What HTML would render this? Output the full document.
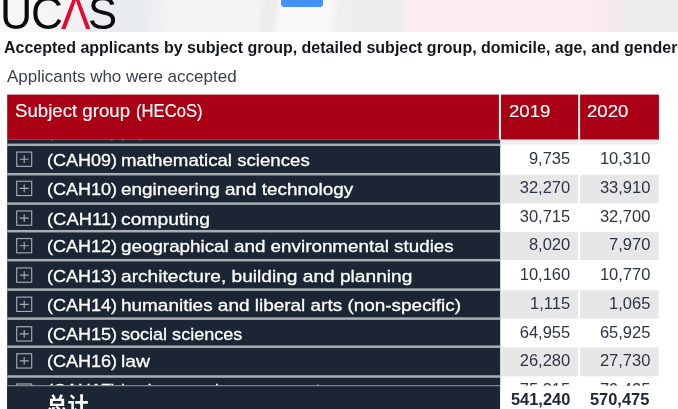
<!DOCTYPE html>
<html lang="en"><head><meta charset="utf-8"><title>UCAS accepted applicants</title>
<style>
html,body{margin:0;padding:0;overflow:hidden;}
body{width:678px;height:409px;overflow:hidden;position:relative;background:#fff;font-family:'Liberation Sans', sans-serif;}
.t{position:absolute;white-space:pre;line-height:1;transform-origin:0 0;}
.top{position:absolute;left:-6px;top:-6px;width:690px;height:38.3px;
 background:linear-gradient(97deg,#f8f7f5 0,#f8f7f5 6px,#f5f5f4 66px,#e9ecf0 106px,#e8ebef 151px,#f3f3f3 176px,#f6f5f3 194px,#f5f4f3 264px,#ececec 271px,#ececec 280px,#fafafa 288px,#fbf8f8 334px,#eef0ef 344px,#ecedec 402px,#fbecf0 414px,#fcebef 596px,#f3e9ec 621px,#ececec 638px,#ededed 688px);}
.btn{position:absolute;left:280.5px;top:-2px;width:42px;height:8.6px;background:#4491fb;border-radius:0 0 3px 3px;}
.logo{position:absolute;left:0;top:0;width:120px;height:32px;}
.lg{position:absolute;line-height:1;font-size:46px;color:#0b0b0b;transform-origin:0 0;}
.scroll{position:absolute;left:0;top:139.7px;width:678px;height:246px;overflow:hidden;}
.scroll>.in{position:absolute;left:0;top:-139.7px;width:678px;height:409px;}
svg{position:absolute;left:0;top:0;overflow:visible;}
.tot{position:absolute;left:0;top:385.7px;width:678px;height:31px;overflow:hidden}
.tot>.in{position:absolute;left:0;top:-385.7px;width:678px;height:430px;}
#pg{position:absolute;left:0;top:0;width:678px;height:409px;filter:blur(0.4px);}
</style></head><body>
<div id="pg">
<div class="top"></div><div class="btn"></div><div class="logo" aria-label="UCAS"><div class="lg" style="left:-0.3px;top:-10.4px;transform:scaleX(.97)">U</div><div class="lg" style="left:30.7px;top:-10.4px;transform:scaleX(.965)">C</div><div class="lg" style="left:60.8px;top:-12.2px;font-size:48.6px;color:#e5082f;transform:scaleX(.9125)">Λ</div><div class="lg" style="left:88.4px;top:-10.3px;transform:scaleX(.948)">S</div></div>
<div class="t" style="left:4.00px;top:39.00px;font-size:16.4px;color:#15171f;font-weight:700;transform:scaleX(0.9754);">Accepted applicants by subject group, detailed subject group, domicile, age, and gender</div>
<div class="t" style="left:6.80px;top:68.81px;font-size:15.7px;color:#3a3e4a;transform:scaleX(1.0835);">Applicants who were accepted</div>
<svg width="678" height="409" viewBox="0 0 678 409">
<rect x="7.2" y="94.6" width="491.7" height="45.099999999999994" fill="#a90016"/>
<rect x="500.9" y="94.6" width="77.3" height="45.099999999999994" fill="#a90016"/>
<rect x="580.1" y="94.6" width="78.8" height="45.099999999999994" fill="#a90016"/>
<rect x="7.2" y="139.7" width="493.0" height="276.3" fill="#1b2533"/>
<rect x="500.9" y="139.70" width="77.3" height="4.90" fill="#efefef"/>
<rect x="580.1" y="139.70" width="78.5" height="4.90" fill="#efefef"/>
<rect x="500.9" y="174.80" width="77.3" height="28.60" fill="#e7e7e7"/>
<rect x="580.1" y="174.80" width="78.5" height="28.60" fill="#e7e7e7"/>
<rect x="500.9" y="231.80" width="77.3" height="28.20" fill="#e7e7e7"/>
<rect x="580.1" y="231.80" width="78.5" height="28.20" fill="#e7e7e7"/>
<rect x="500.9" y="290.20" width="77.3" height="28.20" fill="#e7e7e7"/>
<rect x="580.1" y="290.20" width="78.5" height="28.20" fill="#e7e7e7"/>
<rect x="500.9" y="347.30" width="77.3" height="29.00" fill="#e7e7e7"/>
<rect x="580.1" y="347.30" width="78.5" height="29.00" fill="#e7e7e7"/>
<rect x="7.2" y="143.55" width="493.0" height="2.5" fill="#a9acb2"/>
<rect x="7.2" y="172.95" width="493.0" height="2.5" fill="#a9acb2"/>
<rect x="7.2" y="202.35" width="493.0" height="2.5" fill="#a9acb2"/>
<rect x="7.2" y="229.95" width="493.0" height="2.5" fill="#a9acb2"/>
<rect x="7.2" y="258.95" width="493.0" height="2.5" fill="#a9acb2"/>
<rect x="7.2" y="288.35" width="493.0" height="2.5" fill="#a9acb2"/>
<rect x="7.2" y="317.35" width="493.0" height="2.5" fill="#a9acb2"/>
<rect x="7.2" y="345.45" width="493.0" height="2.5" fill="#a9acb2"/>
<rect x="7.2" y="375.25" width="493.0" height="2.5" fill="#a9acb2"/>
</svg>
<div class="t" style="left:14.60px;top:103.09px;font-size:17.5px;color:#fff;transform:scaleX(1.0648);-webkit-text-stroke:0.15px #fff;">Subject group</div>
<div class="t" style="left:135.60px;top:103.09px;font-size:17.5px;color:#fff;transform:scaleX(0.9512);-webkit-text-stroke:0.15px #fff;">(HECoS)</div>
<div class="t" style="left:508.60px;top:102.86px;font-size:17.3px;color:#fff;transform:scaleX(1.0766);-webkit-text-stroke:0.15px #fff;">2019</div>
<div class="t" style="left:587.20px;top:102.86px;font-size:17.3px;color:#fff;transform:scaleX(1.0766);-webkit-text-stroke:0.15px #fff;">2020</div>
<div class="scroll"><div class="in">
<svg width="678" height="409" viewBox="0 0 678 409"><g fill="none" stroke="#a5abb6" stroke-width="1.15"><rect x="16.70" y="122.95" width="15.0" height="14.3"/><path d="M19.7 130.10H28.7M24.2 126.20V134.00"/></g><g fill="none" stroke="#a5abb6" stroke-width="1.15"><rect x="16.70" y="152.05" width="15.0" height="14.3"/><path d="M19.7 159.20H28.7M24.2 155.30V163.10"/></g><g fill="none" stroke="#a5abb6" stroke-width="1.15"><rect x="16.70" y="181.25" width="15.0" height="14.3"/><path d="M19.7 188.40H28.7M24.2 184.50V192.30"/></g><g fill="none" stroke="#a5abb6" stroke-width="1.15"><rect x="16.70" y="210.95" width="15.0" height="14.3"/><path d="M19.7 218.10H28.7M24.2 214.20V222.00"/></g><g fill="none" stroke="#a5abb6" stroke-width="1.15"><rect x="16.70" y="238.55" width="15.0" height="14.3"/><path d="M19.7 245.70H28.7M24.2 241.80V249.60"/></g><g fill="none" stroke="#a5abb6" stroke-width="1.15"><rect x="16.70" y="267.95" width="15.0" height="14.3"/><path d="M19.7 275.10H28.7M24.2 271.20V279.00"/></g><g fill="none" stroke="#a5abb6" stroke-width="1.15"><rect x="16.70" y="297.15" width="15.0" height="14.3"/><path d="M19.7 304.30H28.7M24.2 300.40V308.20"/></g><g fill="none" stroke="#a5abb6" stroke-width="1.15"><rect x="16.70" y="326.75" width="15.0" height="14.3"/><path d="M19.7 333.90H28.7M24.2 330.00V337.80"/></g><g fill="none" stroke="#a5abb6" stroke-width="1.15"><rect x="16.70" y="353.75" width="15.0" height="14.3"/><path d="M19.7 360.90H28.7M24.2 357.00V364.80"/></g><g fill="none" stroke="#a5abb6" stroke-width="1.15"><rect x="16.70" y="383.95" width="15.0" height="14.3"/><path d="M19.7 391.10H28.7M24.2 387.20V395.00"/></g></svg>
<div class="t" style="left:47.00px;top:124.00px;font-size:16.6px;color:#fff;transform:scaleX(1.0860);-webkit-text-stroke:0.3px #fff;">(CAH07)</div>
<div class="t" style="left:121.00px;top:124.00px;font-size:16.6px;color:#fff;-webkit-text-stroke:0.3px #fff;">physical sciences</div>
<div class="t" style="left:519.73px;top:121.00px;font-size:16.5px;color:#2d3445;">17,500</div>
<div class="t" style="left:599.93px;top:121.00px;font-size:16.5px;color:#2d3445;">18,050</div>
<div class="t" style="left:47.00px;top:153.00px;font-size:16.6px;color:#fff;transform:scaleX(1.0860);-webkit-text-stroke:0.3px #fff;">(CAH09)</div>
<div class="t" style="left:121.00px;top:153.00px;font-size:16.6px;color:#fff;transform:scaleX(1.1248);-webkit-text-stroke:0.3px #fff;">mathematical sciences</div>
<div class="t" style="left:528.90px;top:150.00px;font-size:16.5px;color:#2d3445;">9,735</div>
<div class="t" style="left:599.93px;top:150.00px;font-size:16.5px;color:#2d3445;">10,310</div>
<div class="t" style="left:47.00px;top:182.00px;font-size:16.6px;color:#fff;transform:scaleX(1.0860);-webkit-text-stroke:0.3px #fff;">(CAH10)</div>
<div class="t" style="left:121.00px;top:182.00px;font-size:16.6px;color:#fff;transform:scaleX(1.1392);-webkit-text-stroke:0.3px #fff;">engineering and technology</div>
<div class="t" style="left:519.73px;top:179.00px;font-size:16.5px;color:#2d3445;">32,270</div>
<div class="t" style="left:599.93px;top:179.00px;font-size:16.5px;color:#2d3445;">33,910</div>
<div class="t" style="left:47.00px;top:212.00px;font-size:16.6px;color:#fff;transform:scaleX(1.1072);-webkit-text-stroke:0.3px #fff;">(CAH11)</div>
<div class="t" style="left:121.00px;top:212.00px;font-size:16.6px;color:#fff;transform:scaleX(1.1638);-webkit-text-stroke:0.3px #fff;">computing</div>
<div class="t" style="left:519.73px;top:208.00px;font-size:16.5px;color:#2d3445;">30,715</div>
<div class="t" style="left:599.93px;top:208.00px;font-size:16.5px;color:#2d3445;">32,700</div>
<div class="t" style="left:47.00px;top:239.00px;font-size:16.6px;color:#fff;transform:scaleX(1.0860);-webkit-text-stroke:0.3px #fff;">(CAH12)</div>
<div class="t" style="left:121.00px;top:239.00px;font-size:16.6px;color:#fff;transform:scaleX(1.1341);-webkit-text-stroke:0.3px #fff;">geographical and environmental studies</div>
<div class="t" style="left:528.90px;top:236.00px;font-size:16.5px;color:#2d3445;">8,020</div>
<div class="t" style="left:609.10px;top:236.00px;font-size:16.5px;color:#2d3445;">7,970</div>
<div class="t" style="left:47.00px;top:269.00px;font-size:16.6px;color:#fff;transform:scaleX(1.0860);-webkit-text-stroke:0.3px #fff;">(CAH13)</div>
<div class="t" style="left:121.00px;top:269.00px;font-size:16.6px;color:#fff;transform:scaleX(1.1524);-webkit-text-stroke:0.3px #fff;">architecture, building and planning</div>
<div class="t" style="left:519.73px;top:266.00px;font-size:16.5px;color:#2d3445;">10,160</div>
<div class="t" style="left:599.93px;top:266.00px;font-size:16.5px;color:#2d3445;">10,770</div>
<div class="t" style="left:47.00px;top:298.00px;font-size:16.6px;color:#fff;transform:scaleX(1.0860);-webkit-text-stroke:0.3px #fff;">(CAH14)</div>
<div class="t" style="left:121.00px;top:298.00px;font-size:16.6px;color:#fff;transform:scaleX(1.1416);-webkit-text-stroke:0.3px #fff;">humanities and liberal arts (non-specific)</div>
<div class="t" style="left:530.12px;top:295.00px;font-size:16.5px;color:#2d3445;">1,115</div>
<div class="t" style="left:609.10px;top:295.00px;font-size:16.5px;color:#2d3445;">1,065</div>
<div class="t" style="left:47.00px;top:327.00px;font-size:16.6px;color:#fff;transform:scaleX(1.0860);-webkit-text-stroke:0.3px #fff;">(CAH15)</div>
<div class="t" style="left:121.00px;top:327.00px;font-size:16.6px;color:#fff;transform:scaleX(1.0868);-webkit-text-stroke:0.3px #fff;">social sciences</div>
<div class="t" style="left:519.73px;top:324.00px;font-size:16.5px;color:#2d3445;">64,955</div>
<div class="t" style="left:599.93px;top:324.00px;font-size:16.5px;color:#2d3445;">65,925</div>
<div class="t" style="left:47.00px;top:354.00px;font-size:16.6px;color:#fff;transform:scaleX(1.0860);-webkit-text-stroke:0.3px #fff;">(CAH16)</div>
<div class="t" style="left:121.00px;top:354.00px;font-size:16.6px;color:#fff;transform:scaleX(1.1684);-webkit-text-stroke:0.3px #fff;">law</div>
<div class="t" style="left:519.73px;top:352.00px;font-size:16.5px;color:#2d3445;">26,280</div>
<div class="t" style="left:599.93px;top:352.00px;font-size:16.5px;color:#2d3445;">27,730</div>
<div class="t" style="left:47.00px;top:383.00px;font-size:16.6px;color:#fff;transform:scaleX(1.0860);-webkit-text-stroke:0.3px #fff;">(CAH17)</div>
<div class="t" style="left:121.00px;top:383.00px;font-size:16.6px;color:#fff;-webkit-text-stroke:0.3px #fff;">business and management</div>
<div class="t" style="left:519.73px;top:381.00px;font-size:16.5px;color:#2d3445;">75,315</div>
<div class="t" style="left:599.93px;top:381.00px;font-size:16.5px;color:#2d3445;">79,425</div>
</div></div>
<svg width="678" height="409" viewBox="0 0 678 409">
<rect x="7.2" y="385.7" width="493.0" height="31" fill="#1b2533"/>
<rect x="7.2" y="385.2" width="493.0" height="1" fill="#9a9da5"/>
<rect x="500.2" y="385.7" width="158.40000000000003" height="31" fill="#fff"/>
</svg>
<div class="tot"><div class="in">
<div class="t" style="left:46.50px;top:394.42px;font-size:21px;color:#fff;font-weight:700;font-family:'Liberation Sans', 'Noto Sans CJK SC', sans-serif;">总计</div>
<div class="t" style="left:510.60px;top:391.66px;font-size:16px;color:#232838;font-weight:700;transform:scaleX(1.0252);">541,240</div>
<div class="t" style="left:590.30px;top:391.66px;font-size:16px;color:#232838;font-weight:700;transform:scaleX(1.0252);">570,475</div>
</div></div>
</div>
</body></html>
